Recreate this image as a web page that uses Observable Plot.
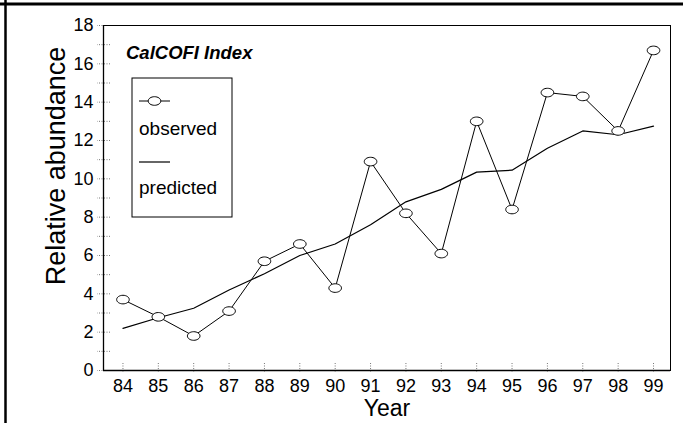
<!DOCTYPE html>
<html>
<head>
<meta charset="utf-8">
<script src="https://cdn.jsdelivr.net/npm/d3@7"></script>
<script src="https://cdn.jsdelivr.net/npm/@observablehq/plot@0.6"></script>
<style>
  html, body { margin: 0; padding: 0; background: #fff; }
  #chart svg { display: block; font-family: "Liberation Sans", Arial, Helvetica, sans-serif; }
</style>
</head>
<body>
<div id="chart"></div>
<script>
const years = [84, 85, 86, 87, 88, 89, 90, 91, 92, 93, 94, 95, 96, 97, 98, 99];
const observed = [3.7, 2.8, 1.8, 3.1, 5.7, 6.6, 4.3, 10.9, 8.2, 6.1, 13.0, 8.4, 14.5, 14.3, 12.5, 16.7];
const predicted = [2.2, 2.75, 3.25, 4.2, 5.05, 6.0, 6.6, 7.6, 8.8, 9.45, 10.35, 10.45, 11.6, 12.5, 12.3, 12.75];
const yTicksMajor = [0, 2, 4, 6, 8, 10, 12, 14, 16, 18];
const yTicksAll = d3.range(0, 19, 1);
const chartTitle = "CalCOFI Index";
const legendLabels = ["observed", "predicted"];
const xTitle = "Year";
const yTitle = "Relative abundance";

const obsData = years.map((y, i) => ({year: y, value: observed[i]}));
const predData = years.map((y, i) => ({year: y, value: predicted[i]}));

const RX = 6.3, RY = 4.3, K = 0.5523;
const ellipse = {
  draw(ctx) {
    ctx.moveTo(RX, 0);
    ctx.bezierCurveTo(RX, RY * K, RX * K, RY, 0, RY);
    ctx.bezierCurveTo(-RX * K, RY, -RX, RY * K, -RX, 0);
    ctx.bezierCurveTo(-RX, -RY * K, -RX * K, -RY, 0, -RY);
    ctx.bezierCurveTo(RX * K, -RY, RX, -RY * K, RX, 0);
    ctx.closePath();
  }
};

const tickStyle = {stroke: "#777", strokeDasharray: "1,1.5", strokeWidth: 1};

const plot = Plot.plot({
  width: 683,
  height: 423,
  marginLeft: 103,
  marginRight: 13,
  marginTop: 25,
  marginBottom: 53,
  style: {fontFamily: "Liberation Sans, Arial, Helvetica, sans-serif", background: "white", color: "black"},
  x: {domain: [83.45, 99.48]},
  y: {domain: [0, 18]},
  marks: [
    Plot.axisY({ticks: yTicksAll, tickSize: 13, dx: 7, text: null, label: null, ...tickStyle}),
    Plot.axisX({ticks: years, tickSize: 10, dy: -7, text: null, label: null, ...tickStyle}),
    Plot.axisY({ticks: yTicksMajor, tickSize: 0, tickPadding: 10, fontSize: 18, label: null}),
    Plot.axisX({ticks: years, tickSize: 0, tickPadding: 9, fontSize: 18, tickFormat: d => String(d), label: null}),
    Plot.frame({stroke: "black", strokeWidth: 1}),
    Plot.ruleX([83.45], {stroke: "black", strokeWidth: 1.3}),
    Plot.ruleY([0], {stroke: "black", strokeWidth: 1.3}),
    Plot.line(predData, {x: "year", y: "value", stroke: "black", strokeWidth: 1.2}),
    Plot.line(obsData, {x: "year", y: "value", stroke: "black", strokeWidth: 1}),
    Plot.dot(obsData, {x: "year", y: "value", symbol: ellipse, fill: "white", stroke: "black", strokeWidth: 1}),
    Plot.text([xTitle], {frameAnchor: "bottom", dy: 38, fontSize: 23, lineAnchor: "middle", textAnchor: "middle", fill: "black"}),
    Plot.text([yTitle], {frameAnchor: "left", rotate: -90, dx: -47, dy: -32, fontSize: 27, lineAnchor: "middle", textAnchor: "middle", fill: "black"})
  ]
});

document.getElementById("chart").appendChild(plot);

const svg = d3.select(plot);
const g = svg.append("g")
  .attr("font-family", "Liberation Sans, Arial, Helvetica, sans-serif")
  .attr("text-anchor", "start");
g.append("text").attr("x", 126).attr("y", 53).attr("dy", "0.35em")
  .attr("font-size", 18.5).attr("font-weight", "bold").attr("font-style", "italic").text(chartTitle);
g.append("rect").attr("x", 132).attr("y", 78).attr("width", 100).attr("height", 139)
  .attr("fill", "white").attr("stroke", "black").attr("stroke-width", 1);
g.append("line").attr("x1", 139).attr("x2", 170).attr("y1", 101).attr("y2", 101).attr("stroke", "black");
g.append("path").attr("transform", "translate(154.5,101)")
  .attr("d", d3.symbol(ellipse)()).attr("fill", "white").attr("stroke", "black");
g.append("text").attr("x", 139).attr("y", 128).attr("dy", "0.35em").attr("font-size", 19).text(legendLabels[0]);
g.append("line").attr("x1", 139).attr("x2", 170).attr("y1", 162).attr("y2", 162).attr("stroke", "black").attr("stroke-width", 1.2);
g.append("text").attr("x", 139).attr("y", 187).attr("dy", "0.35em").attr("font-size", 19).text(legendLabels[1]);

svg.append("line").attr("x1", 0).attr("x2", 683).attr("y1", 4).attr("y2", 4).attr("stroke", "black").attr("stroke-width", 3);
svg.append("line").attr("x1", 5.5).attr("x2", 5.5).attr("y1", 0).attr("y2", 423).attr("stroke", "black").attr("stroke-width", 2.5);
</script>
</body>
</html>
